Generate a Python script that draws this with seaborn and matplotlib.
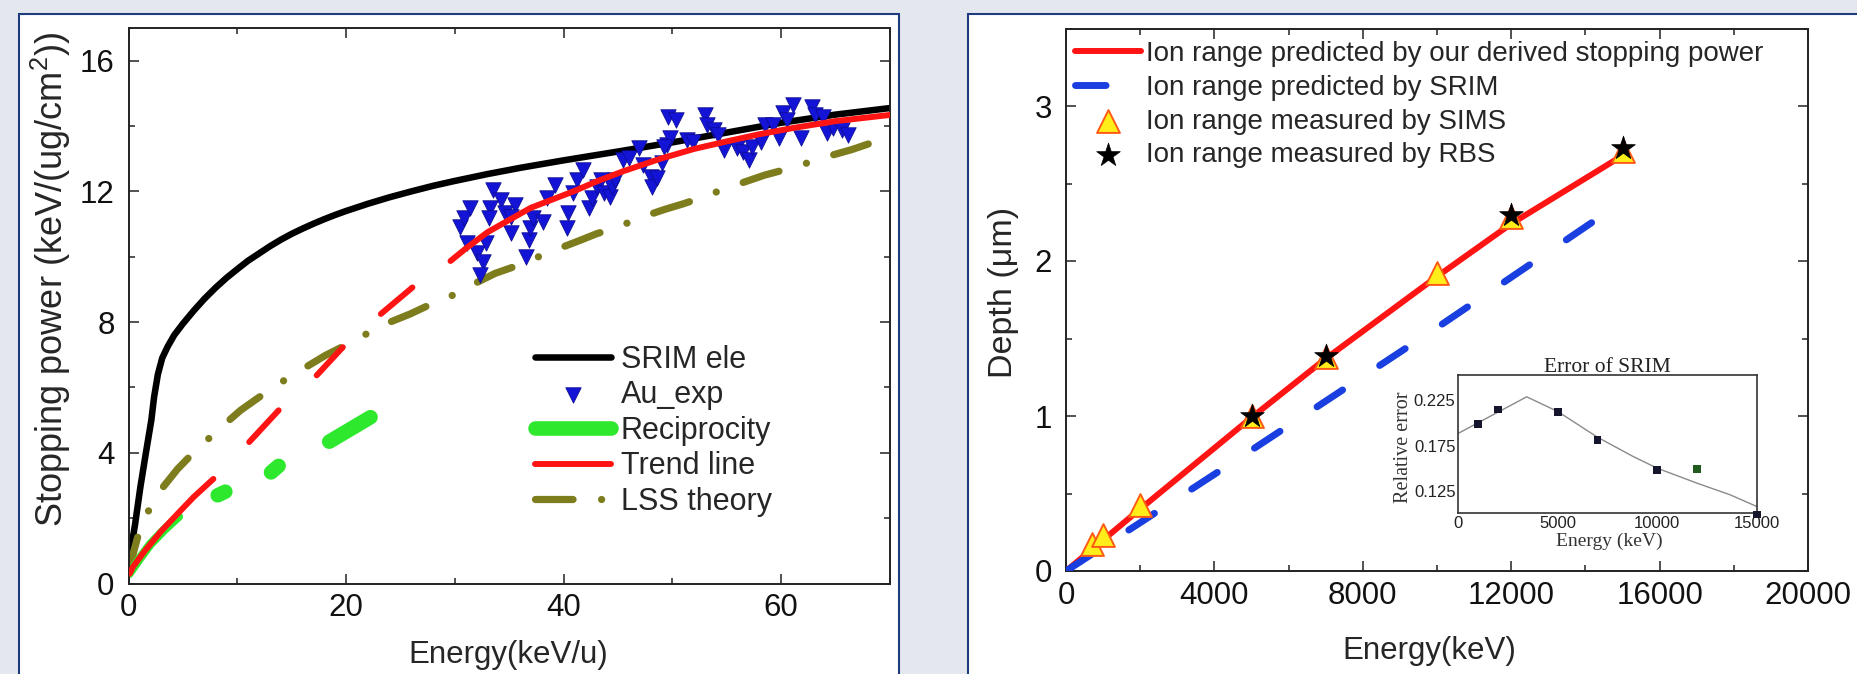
import numpy as np
import pandas as pd
import matplotlib
matplotlib.use("Agg")
import matplotlib.pyplot as plt
import seaborn as sns
from matplotlib.patches import Rectangle
from matplotlib.ticker import MultipleLocator, FixedLocator

# ---------------- data: left panel (stopping power) ----------------
srim_energy = [0.02, 0.3, 0.6, 1.1, 1.6, 2.1, 2.35, 2.7, 3.1, 3.6, 4.2, 5, 6, 7, 8, 9, 10, 11, 12,
               13, 14, 15, 16, 17, 18, 19, 20, 22, 24, 26, 28, 30, 33, 36, 40, 45, 50, 55, 60,
               65, 70]
srim_sp = [0.4, 1.2, 1.8, 2.97, 4.0, 5.0, 5.7, 6.4, 6.9, 7.25, 7.6, 7.95, 8.35, 8.72, 9.05, 9.35,
           9.62, 9.88, 10.1, 10.32, 10.52, 10.7, 10.86, 11.01, 11.15, 11.28, 11.4, 11.62, 11.82,
           12.0, 12.17, 12.32, 12.53, 12.72, 12.95, 13.22, 13.5, 13.8, 14.1, 14.35, 14.55]

au_energy = [30.5, 30.8, 31.4, 31.1, 32.0, 32.6, 32.3, 32.9, 33.5, 33.2, 33.1, 34.2, 34.6, 35.2,
             35.5, 35.2, 36.8, 36.9, 37.2, 36.5, 38.1, 38.5, 39.2, 40.3, 40.4, 40.9, 41.2, 41.8,
             42.3, 42.6, 43.1, 43.4, 43.7, 44.3, 44.4, 44.7, 45.5, 46.0, 46.9, 47.3, 48.0, 48.1,
             48.6, 49.0, 49.5, 49.6, 50.3, 49.8, 49.2, 51.3, 51.9, 53.0, 53.2, 53.8, 54.2, 54.7,
             55.9, 56.5, 57.0, 57.3, 58.1, 58.5, 59.2, 59.8, 60.2, 60.5, 61.1, 61.8, 62.8, 63.1,
             63.8, 64.2, 64.8, 65.6, 66.1]
au_sp = [10.92, 11.18, 11.48, 10.41, 10.11, 9.85, 9.44, 10.41, 12.04, 11.48, 11.18, 11.74, 11.33,
         10.72, 11.58, 11.23, 10.51, 10.87, 11.18, 10.0, 11.07, 11.79, 12.2, 10.87, 11.33, 11.94,
         12.35, 12.65, 11.48, 11.79, 12.14, 12.35, 11.94, 11.84, 12.14, 12.35, 12.96, 13.01, 13.32,
         12.81, 12.45, 12.14, 12.4, 12.86, 13.42, 14.28, 14.18, 13.62, 13.37, 13.57, 13.52, 14.34,
         14.03, 13.88, 13.72, 13.27, 13.32, 13.21, 12.96, 13.37, 13.52, 14.03, 14.03, 13.62, 14.39,
         14.18, 14.64, 13.62, 14.59, 14.34, 14.28, 13.78, 13.93, 13.88, 13.72]

recip_segment = [0, 0, 0, 0, 0, 1, 1, 2, 2, 3, 3]
recip_energy = [0.05, 1.0, 2.0, 3.3, 4.6, 8.2, 8.9, 13.1, 13.8, 18.45, 22.25]
recip_sp = [0.3, 0.75, 1.2, 1.65, 2.05, 2.70, 2.81, 3.40, 3.60, 4.34, 5.09]

trend_segment = [0] * 7 + [1] * 2 + [2] * 2 + [3] * 2 + [4] * 15
trend_energy = [0.1, 0.43, 1.5, 3.0, 4.7, 6.0, 7.8, 11.1, 13.8, 17.3, 19.7, 23.2, 26.1,
                29.6, 31, 33, 34.8, 37, 40.9, 43, 45.5, 48.9, 52, 55, 58, 61.1, 65, 70]
trend_sp = [0.3, 0.52, 1.0, 1.6, 2.2, 2.65, 3.2, 4.33, 5.3, 6.37, 7.23, 8.25, 9.06,
            9.87, 10.25, 10.75, 11.09, 11.5, 12.0, 12.3, 12.62, 13.0, 13.3, 13.53, 13.75, 13.94,
            14.15, 14.34]

lss_energy = [0, 0.5, 0.9, 1.8, 3.2, 4.5, 5.9, 8.2, 10.3, 12, 13.8, 15.8, 18.1, 20, 21.6, 23.6,
              25.9, 27.5, 29.4, 31.4, 33.7, 35.5, 37.1, 39.4, 41.5, 43, 44.9, 47, 49.3, 51, 52.6,
              54.9, 57, 58.5, 60.4, 62.7, 64.8, 66.5, 68]
lss_sp = [0.3, 1.0, 1.49, 2.2, 2.96, 3.5, 3.98, 4.69, 5.3, 5.7, 6.11, 6.52, 6.98, 7.3, 7.59, 7.94,
          8.25, 8.5, 8.75, 9.11, 9.49, 9.7, 9.92, 10.23, 10.5, 10.7, 10.9, 11.19, 11.45, 11.62,
          11.8, 12.09, 12.33, 12.5, 12.67, 12.9, 13.12, 13.28, 13.45]

# ---------------- data: right panel (ion range) ----------------
pred_energy = [0, 1000, 2000, 5000, 7000, 10000, 12000, 15000]
pred_depth = [0, 0.20, 0.40, 0.99, 1.37, 1.90, 2.24, 2.68]
srim_range_energy = [0, 5000, 10000, 14800]
srim_range_depth = [0, 0.78, 1.57, 2.35]
sims_energy = [700, 1000, 2000, 5000, 7000, 10000, 12000, 15000]
sims_depth = [0.175, 0.23, 0.425, 1.0, 1.378, 1.925, 2.286, 2.71]
rbs_energy = [5000, 7000, 12000, 15000]
rbs_depth = [1.0, 1.39, 2.3, 2.73]

# ---------------- data: inset (error of SRIM) ----------------
err_energy = [1000, 2000, 5000, 7000, 10000, 12000, 15000]
err_value = [0.1988, 0.2148, 0.2122, 0.1813, 0.1486, 0.1493, 0.0995]
err_group = ["a", "a", "a", "a", "a", "b", "a"]
errfit_energy = [0, 3437, 5000, 7000, 8800, 10000, 12000, 13660, 15000]
errfit_value = [0.1886, 0.2286, 0.2125, 0.1843, 0.1631, 0.1504, 0.134, 0.1213, 0.1085]

# ---------------- style ----------------
sns.set_theme(style="white")
plt.rcParams['font.family'] = ['Liberation Sans', 'DejaVu Sans']
plt.rcParams['mathtext.fontset'] = 'custom'
plt.rcParams['mathtext.rm'] = 'Liberation Sans'
plt.rcParams['mathtext.it'] = 'Liberation Sans:italic'

BG = '#e4e8ee'
PANEL_EDGE = '#1d3c7e'
W, H = 1857, 674

fig = plt.figure(figsize=(W / 100, H / 100), dpi=100, facecolor=BG)
fig.add_artist(Rectangle((19 / W, -0.05), 880 / W, 1.05 - 14 / H, transform=fig.transFigure,
                         facecolor='white', edgecolor=PANEL_EDGE, lw=1.5, zorder=-1))
fig.add_artist(Rectangle((968 / W, -0.05), 1.1 - 968 / W, 1.05 - 14 / H, transform=fig.transFigure,
                         facecolor='white', edgecolor=PANEL_EDGE, lw=1.5, zorder=-1))

axL = fig.add_axes([128.5 / W, 1 - 583.5 / H, 761.5 / W, 555.5 / H])
axR = fig.add_axes([1066 / W, 1 - 571 / H, 742 / W, 542.5 / H])
axI = fig.add_axes([1458.3 / W, 1 - 513.3 / H, 298.4 / W, 138.3 / H])


def style_main(ax):
    ax.set_facecolor('white')
    ax.tick_params(which='both', direction='in', top=True, right=True, bottom=True, left=True,
                   labelsize=22.5, width=1.1, color='#222222', labelcolor='#111111')
    ax.tick_params(axis='x', which='both', pad=7)
    ax.tick_params(axis='y', which='both', pad=10)
    ax.tick_params(which='major', length=7)
    ax.tick_params(which='minor', length=4)
    for s in ax.spines.values():
        s.set_linewidth(1.4)
        s.set_color('#222222')
        s.set_visible(True)


# ---------------- left panel ----------------
sns.lineplot(x=srim_energy, y=srim_sp, ax=axL, color='black', lw=4.7, sort=False,
             estimator=None, zorder=2, solid_capstyle='round', solid_joinstyle='round')
h_srim = axL.lines[-1]

n0 = len(axL.lines)
sns.lineplot(x=lss_energy, y=lss_sp, ax=axL, color='#7d7d1e', lw=5.2, sort=False,
             estimator=None, zorder=2, linestyle=(0, (5.2, 3.95, 0.01, 3.95)),
             dash_capstyle='round')
h_lss = axL.lines[n0]

rdf = pd.DataFrame({'E': recip_energy, 'S': recip_sp, 'seg': recip_segment})
sns.lineplot(data=rdf[rdf.seg == 0], x='E', y='S', ax=axL, color='#2ee82e', lw=6.5,
             sort=False, estimator=None, zorder=2, solid_capstyle='round')
n0 = len(axL.lines)
sns.lineplot(data=rdf[rdf.seg > 0], x='E', y='S', units='seg', ax=axL, color='#2ee82e',
             lw=10.5, sort=False, estimator=None, zorder=2, solid_capstyle='round')
h_recip = axL.lines[n0]

sns.scatterplot(x=au_energy, y=au_sp, ax=axL, marker='v', s=125, color='#1414d6',
                edgecolor='#0a0a8a', linewidth=0.5, zorder=3)
h_au = axL.collections[-1]

tdf = pd.DataFrame({'E': trend_energy, 'S': trend_sp, 'seg': trend_segment})
n0 = len(axL.lines)
sns.lineplot(data=tdf, x='E', y='S', units='seg', ax=axL, color='#ff1414', lw=4.3,
             sort=False, estimator=None, zorder=4, solid_capstyle='round')
h_trend = axL.lines[n0]

axL.set_xlim(0, 70)
axL.set_ylim(0, 17)
axL.xaxis.set_major_locator(MultipleLocator(20))
axL.xaxis.set_minor_locator(MultipleLocator(10))
axL.yaxis.set_major_locator(FixedLocator([0, 4, 8, 12, 16]))
axL.yaxis.set_minor_locator(FixedLocator([2, 6, 10, 14]))
style_main(axL)
axL.set_xlabel('Energy(keV/u)', fontsize=22.5)
axL.set_ylabel('Stopping power (keV/(ug/cm$^2$))', fontsize=26)
axL.xaxis.set_label_coords(0.499, -0.1017)
axL.yaxis.set_label_coords(-0.0725, 0.547)

legL = axL.legend([h_srim, h_au, h_recip, h_trend, h_lss],
                  ['SRIM ele', 'Au_exp', 'Reciprocity', 'Trend line', 'LSS theory'],
                  loc='upper left', bbox_to_anchor=(535 / W, 1 - 345 / H),
                  bbox_transform=fig.transFigure, frameon=False, fontsize=22,
                  handlelength=2.5, handletextpad=0.3, labelspacing=0.18, borderpad=0,
                  borderaxespad=0)

# ---------------- right panel ----------------
n0 = len(axR.lines)
sns.lineplot(x=pred_energy, y=pred_depth, ax=axR, color='#ff1414', lw=4.3, sort=False,
             estimator=None, zorder=3)
h_pred = axR.lines[n0]
n0 = len(axR.lines)
sns.lineplot(x=srim_range_energy, y=srim_range_depth, ax=axR, color='#1a3fe0', lw=5.0,
             sort=False, estimator=None, zorder=3, linestyle=(0, (4.4, 6.4)),
             dash_capstyle='round')
h_srimr = axR.lines[n0]
sns.scatterplot(x=sims_energy, y=sims_depth, ax=axR, marker='^', s=270, color='#ffee1a',
                edgecolor='#ff5a14', linewidth=1.4, zorder=5)
h_sims = axR.collections[-1]
sns.scatterplot(x=rbs_energy, y=rbs_depth, ax=axR, marker='*', s=320, color='black',
                edgecolor='black', linewidth=0.5, zorder=6)
h_rbs = axR.collections[-1]

axR.set_xlim(0, 20000)
axR.set_ylim(0, 3.5)
axR.xaxis.set_major_locator(MultipleLocator(4000))
axR.xaxis.set_minor_locator(MultipleLocator(2000))
axR.yaxis.set_major_locator(MultipleLocator(1))
axR.yaxis.set_minor_locator(MultipleLocator(0.5))
style_main(axR)
axR.set_xlabel('Energy(keV)', fontsize=22.5)
axR.set_ylabel('Depth (μm)', fontsize=24.5)
axR.xaxis.set_label_coords(0.49, -0.12)
axR.yaxis.set_label_coords(-0.0633, 0.514)

legR = axR.legend([h_pred, h_srimr, h_sims, h_rbs],
                  ['Ion range predicted by our derived stopping power',
                   'Ion range predicted by SRIM',
                   'Ion range measured by SIMS',
                   'Ion range measured by RBS'],
                  loc='upper left', bbox_to_anchor=(1075 / W, 1 - 41 / H),
                  bbox_transform=fig.transFigure, frameon=False, fontsize=20,
                  handlelength=2.36, handletextpad=0.21, labelspacing=0.28, borderpad=0,
                  borderaxespad=0)

# ---------------- inset ----------------
sns.lineplot(x=errfit_energy, y=errfit_value, ax=axI, color='#8a8a8a', lw=1.0, sort=False,
             estimator=None, zorder=2)
sns.scatterplot(x=err_energy, y=err_value, hue=err_group, palette={'a': '#15152e', 'b': '#1f5a1f'},
                ax=axI, marker='s', s=30, edgecolor='none', legend=False, zorder=3, clip_on=False)
axI.set_xlim(0, 15000)
axI.set_ylim(0.101, 0.2525)
axI.xaxis.set_major_locator(FixedLocator([0, 5000, 10000, 15000]))
axI.yaxis.set_major_locator(FixedLocator([0.125, 0.175, 0.225]))
axI.set_facecolor('white')
axI.tick_params(which='both', length=0, labelsize=12, pad=2, labelcolor='#222222')
for lab in axI.get_xticklabels() + axI.get_yticklabels():
    lab.set_family(['Liberation Sans', 'DejaVu Sans'])
for s in axI.spines.values():
    s.set_linewidth(1.2)
    s.set_color('#333333')
    s.set_visible(True)
axI.set_title('Error of SRIM', family=['Liberation Serif', 'DejaVu Serif'], fontsize=15.5,
              pad=2, color='#222222')
axI.set_xlabel('Energy (keV)', family=['Liberation Serif', 'DejaVu Serif'], fontsize=14,
               color='#333333')
axI.set_ylabel('Relative error', family=['Liberation Serif', 'DejaVu Serif'], fontsize=14.5,
               color='#333333')
axI.xaxis.set_label_coords(0.505, -0.142)
axI.yaxis.set_label_coords(-0.152, 0.48)

fig.savefig('out.png', dpi=100, facecolor=BG)
